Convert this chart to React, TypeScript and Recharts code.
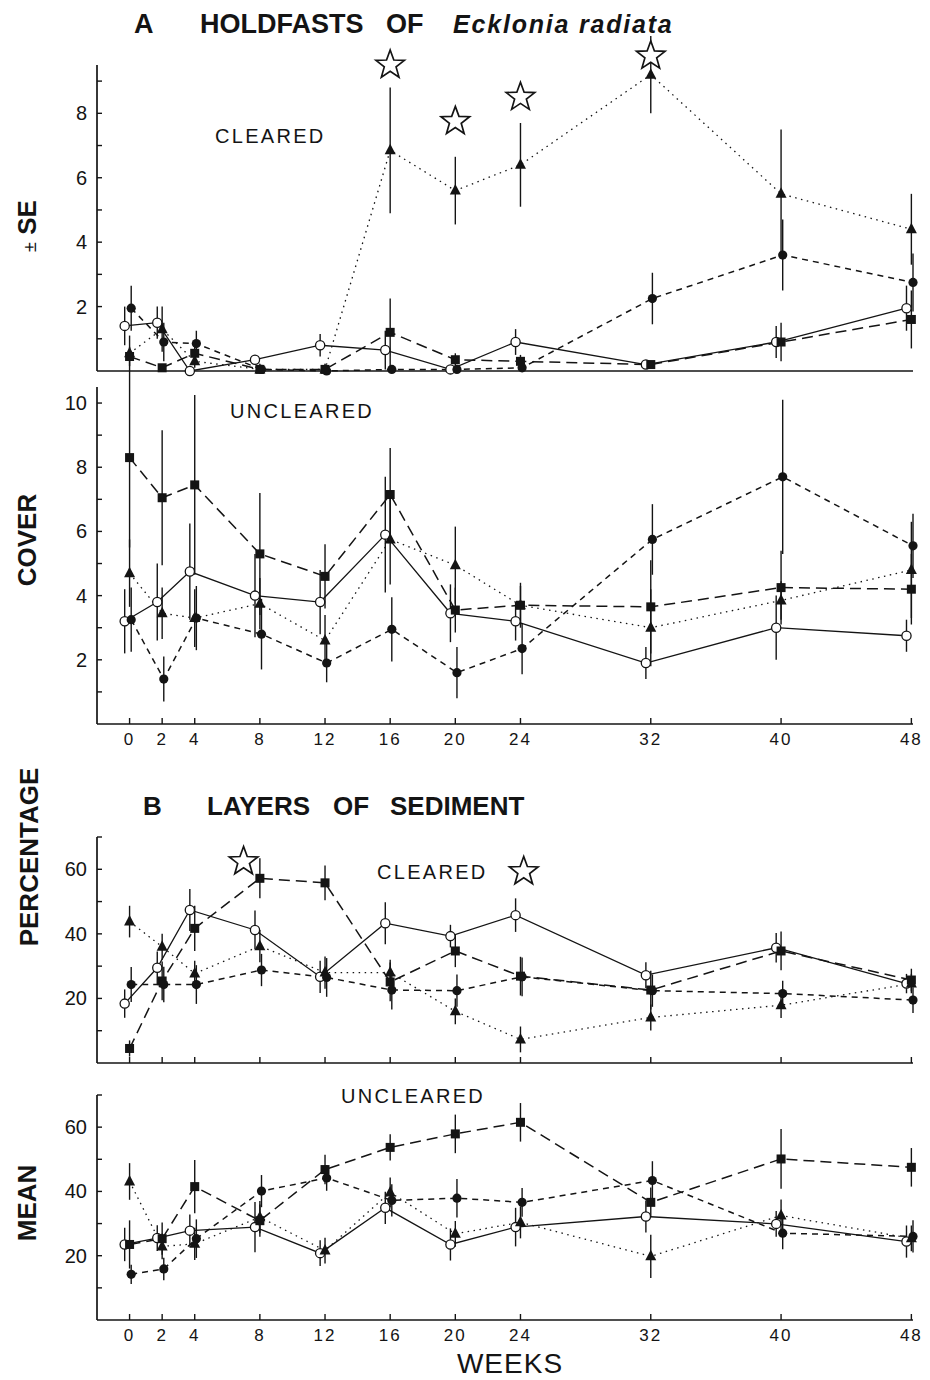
import React from 'react'
import { LineChart, Line, XAxis, YAxis, ErrorBar, ReferenceDot } from 'recharts'

const weeks = [0, 2, 4, 8, 12, 16, 20, 24, 32, 40, 48]
const weekTicks = [0, 2, 4, 8, 12, 16, 20, 24, 32, 40, 48]

// A  holdfasts, cleared plots
const holdClrOpen = [1.4, 1.5, 0.0, 0.35, 0.8, 0.65, 0.05, 0.9, 0.2, 0.9, 1.95]
const holdClrOpenSe = [0.6, 0.5, 0, 0.15, 0.35, 0.6, 0.1, 0.4, 0.1, 0.5, 0.7]
const holdClrSquare = [0.45, 0.1, 0.55, 0.05, 0.05, 1.2, 0.35, 0.3, 0.2, 0.9, 1.6]
const holdClrSquareSe = [0.3, 0.1, 0.35, 0.05, 0.05, 1.05, 0.2, 0.2, 0.1, 0.6, 0.9]
const holdClrDisc = [1.95, 0.9, 0.85, 0.05, 0.0, 0.05, 0.05, 0.1, 2.25, 3.6, 2.75]
const holdClrDiscSe = [0.7, 0.6, 0.4, 0, 0, 0, 0, 0, 0.8, 1.1, 0.9]
const holdClrTri = [0.55, 1.3, 0.3, 0.05, 0.05, 6.85, 5.6, 6.4, 9.2, 5.5, 4.4]
const holdClrTriSe = [0.55, 0.7, 0.2, 0, 0, 1.95, 1.05, 1.3, 1.2, 2.0, 1.1]
const holdStarWeeks = [16, 20, 24, 32]
const holdStarValues = [9.5, 7.75, 8.5, 9.78]

// A  holdfasts, uncleared plots
const holdUncOpen = [3.2, 3.8, 4.75, 4.0, 3.8, 5.9, 3.45, 3.2, 1.9, 3.0, 2.75]
const holdUncOpenSe = [1.0, 1.2, 1.5, 1.3, 1.0, 1.8, 0.9, 0.6, 0.5, 1.0, 0.5]
const holdUncSquare = [8.3, 7.05, 7.45, 5.3, 4.6, 7.15, 3.55, 3.7, 3.65, 4.25, 4.2]
const holdUncSquareSe = [2.8, 2.1, 2.8, 1.9, 1.0, 1.45, 0.7, 0.6, 1.45, 1.15, 1.1]
const holdUncDisc = [3.25, 1.4, 3.3, 2.8, 1.9, 2.95, 1.6, 2.35, 5.75, 7.7, 5.55]
const holdUncDiscSe = [1.0, 0.7, 1.0, 1.1, 0.6, 1.0, 0.8, 0.8, 1.1, 2.4, 1.0]
const holdUncTri = [4.7, 3.45, 3.3, 3.75, 2.6, 5.75, 4.95, 3.7, 3.0, 3.85, 4.8]
const holdUncTriSe = [1.05, 0.8, 0.9, 0.8, 0.8, 1.4, 1.2, 0.7, 1.2, 0.6, 1.5]

// B  sediment layers, cleared plots
const sedClrOpen = [18.4, 29.5, 47.4, 41.2, 26.7, 43.3, 39.3, 45.8, 27.2, 35.7, 24.6]
const sedClrOpenSe = [4.4, 5, 6.5, 6, 5, 6.5, 3.5, 5.2, 4, 4.6, 3]
const sedClrSquare = [4.5, 25.4, 41.7, 57.2, 55.8, 25.1, 34.7, 26.9, 22.6, 34.7, 25.7]
const sedClrSquareSe = [2.5, 6, 7, 6.2, 5.4, 6, 5, 6, 6, 6, 3.5]
const sedClrDisc = [24.3, 24.3, 24.3, 28.8, 26.5, 22.6, 22.4, 26.7, 22.4, 21.5, 19.5]
const sedClrDiscSe = [5.4, 5.5, 6, 5, 6, 6, 5, 6, 5, 4, 4]
const sedClrTri = [43.8, 36, 27.7, 36.2, 28, 28, 16, 7.3, 14.1, 17.9, 24.6]
const sedClrTriSe = [4.9, 4, 4, 5, 5, 4, 4, 4, 4, 4, 3]
const sedStarWeeks = [7, 24.2]
const sedStarValues = [62.4, 59.3]

// B  sediment layers, uncleared plots
const sedUncOpen = [23.5, 25.5, 27.8, 28.9, 20.8, 34.9, 23.5, 28.9, 32.2, 29.9, 24.4]
const sedUncOpenSe = [5.2, 4, 5, 7.8, 4, 5, 5, 6, 5, 4, 5]
const sedUncSquare = [23.5, 25.3, 41.5, 30.9, 46.8, 53.7, 57.9, 61.5, 36.6, 50.1, 47.5]
const sedUncSquareSe = [7.5, 5, 8.3, 5, 4.6, 4.1, 6, 6, 4.6, 9.3, 6]
const sedUncDisc = [14.2, 15.9, 25.3, 40.1, 44.2, 37.2, 37.9, 36.6, 43.4, 27.0, 26.0]
const sedUncDiscSe = [3, 3.5, 6, 5, 4, 5, 6, 4.5, 6, 5, 5]
const sedUncTri = [43.1, 22.9, 23.7, 32.0, 21.6, 39.7, 26.8, 30.4, 19.8, 32.5, 25.4]
const sedUncTriSe = [5.7, 4, 5, 5, 4, 4.6, 4, 5, 6.7, 5, 4]

const INK = '#141414'
const FONT = '"Liberation Sans", Arial, Helvetica, sans-serif'

const OpenDot = (p: any) => (
  <circle key={`o${p.index}`} cx={p.cx} cy={p.cy} r={4.6} fill="#fff" stroke={INK} strokeWidth={1.3} />
)
const SquareDot = (p: any) => (
  <rect key={`s${p.index}`} x={p.cx - 4.5} y={p.cy - 4.5} width={9} height={9} fill={INK} />
)
const DiscDot = (p: any) => <circle key={`d${p.index}`} cx={p.cx} cy={p.cy} r={4.6} fill={INK} />
const TriDot = (p: any) => (
  <polygon
    key={`t${p.index}`}
    points={`${p.cx},${p.cy - 6.5} ${p.cx - 5.5},${p.cy + 4} ${p.cx + 5.5},${p.cy + 4}`}
    fill={INK}
  />
)

const seriesStyle: Record<string, { dash?: string; width: number; shift: number; dot: any }> = {
  open: { width: 1.3, shift: -0.3, dot: OpenDot },
  square: { dash: '11 6', width: 1.5, shift: 0, dot: SquareDot },
  disc: { dash: '6 5', width: 1.5, shift: 0.1, dot: DiscDot },
  tri: { dash: '1.5 4.5', width: 1.3, shift: 0, dot: TriDot },
}

type Series = { kind: string; values: number[]; errors: number[] }

const rowsOf = (s: Series) =>
  weeks.map((w, i) => ({ x: w + seriesStyle[s.kind].shift, y: s.values[i], e: s.errors[i] }))

const StarShape = (p: any) => {
  const pts: string[] = []
  for (let i = 0; i < 10; i++) {
    const r = i % 2 === 0 ? 15 : 6.2
    const a = -Math.PI / 2 + (i * Math.PI) / 5
    pts.push(`${p.cx + r * Math.cos(a)},${p.cy + r * Math.sin(a)}`)
  }
  return <polygon points={pts.join(' ')} fill="#fff" stroke={INK} strokeWidth={1.7} strokeLinejoin="miter" />
}

const makeYTick = (labelStep: number) => (p: any) => {
  const v = p.payload.value
  return (
    <g>
      <line x1={p.x} x2={p.x + 5} y1={p.y} y2={p.y} stroke={INK} strokeWidth={1.4} />
      {v % labelStep === 0 && (
        <text x={p.x - 10} y={p.y} textAnchor="end" dominantBaseline="central" fontSize={20} fontFamily={FONT} fill={INK}>
          {v}
        </text>
      )}
    </g>
  )
}

const makeXTick = (withLabel: boolean) => (p: any) => (
  <g>
    <line x1={p.x} x2={p.x} y1={p.y} y2={p.y - 6} stroke={INK} strokeWidth={1.4} />
    {withLabel && (
      <text x={p.x} y={p.y + 15} textAnchor="middle" dominantBaseline="central" fontSize={17} letterSpacing={2} fontFamily={FONT} fill={INK}>
        {p.payload.value}
      </text>
    )}
  </g>
)

type PanelProps = {
  top: number
  height: number
  plotTop: number
  axisH: number
  yMax: number
  yTicks: number[]
  labelStep: number
  xTicks: boolean
  xLabels: boolean
  series: Series[]
  starWeeks?: number[]
  starValues?: number[]
}

function Panel(props: PanelProps) {
  const { top, height, plotTop, axisH, yMax, yTicks, labelStep, xTicks, xLabels, series } = props
  return (
    <div style={{ position: 'absolute', left: 0, top }}>
      <LineChart width={930} height={height} margin={{ top: plotTop, right: 17, bottom: 0, left: 37 }}>
        <XAxis
          type="number"
          dataKey="x"
          domain={[-2, 48]}
          ticks={weekTicks}
          interval={0}
          height={axisH}
          tickSize={0}
          tickMargin={0}
          tickLine={false}
          tick={xTicks ? makeXTick(xLabels) : false}
          axisLine={{ stroke: INK, strokeWidth: 1.7 }}
        />
        <YAxis
          yAxisId="y"
          type="number"
          domain={[0, yMax]}
          ticks={yTicks}
          interval={0}
          width={60}
          tickSize={0}
          tickMargin={0}
          tickLine={false}
          tick={makeYTick(labelStep)}
          axisLine={{ stroke: INK, strokeWidth: 1.7 }}
        />
        <YAxis yAxisId="e" hide orientation="right" width={0} type="number" domain={[0, yMax]} allowDataOverflow />
        {series.map((s) => (
          <Line
            key={`err-${s.kind}`}
            yAxisId="e"
            data={rowsOf(s)}
            dataKey="y"
            stroke="none"
            dot={false}
            activeDot={false}
            isAnimationActive={false}
          >
            <ErrorBar dataKey="e" width={0} stroke={INK} strokeWidth={1.4} direction="y" isAnimationActive={false} />
          </Line>
        ))}
        {series.map((s) => {
          const st = seriesStyle[s.kind]
          return (
            <Line
              key={`line-${s.kind}`}
              yAxisId="y"
              data={rowsOf(s)}
              dataKey="y"
              stroke={INK}
              strokeWidth={st.width}
              strokeDasharray={st.dash}
              dot={st.dot}
              activeDot={false}
              isAnimationActive={false}
            />
          )
        })}
        {(props.starWeeks ?? []).map((w, i) => (
          <ReferenceDot
            key={`star${i}`}
            yAxisId="y"
            x={w}
            y={props.starValues![i]}
            r={15}
            ifOverflow="visible"
            shape={StarShape}
          />
        ))}
      </LineChart>
    </div>
  )
}

const txt = { fontFamily: FONT, fill: INK }

export default function App() {
  return (
    <div style={{ position: 'absolute', left: 0, top: 0, width: 930, height: 1380, background: '#fff' }}>
      <Panel
        top={0}
        height={381}
        plotTop={65}
        axisH={10}
        yMax={9.5}
        yTicks={[1, 2, 3, 4, 5, 6, 7, 8, 9]}
        labelStep={2}
        xTicks={false}
        xLabels={false}
        series={[
          { kind: 'open', values: holdClrOpen, errors: holdClrOpenSe },
          { kind: 'square', values: holdClrSquare, errors: holdClrSquareSe },
          { kind: 'disc', values: holdClrDisc, errors: holdClrDiscSe },
          { kind: 'tri', values: holdClrTri, errors: holdClrTriSe },
        ]}
        starWeeks={holdStarWeeks}
        starValues={holdStarValues}
      />
      <Panel
        top={371}
        height={389}
        plotTop={16}
        axisH={36}
        yMax={10.5}
        yTicks={[1, 2, 3, 4, 5, 6, 7, 8, 9, 10]}
        labelStep={2}
        xTicks
        xLabels
        series={[
          { kind: 'open', values: holdUncOpen, errors: holdUncOpenSe },
          { kind: 'square', values: holdUncSquare, errors: holdUncSquareSe },
          { kind: 'disc', values: holdUncDisc, errors: holdUncDiscSe },
          { kind: 'tri', values: holdUncTri, errors: holdUncTriSe },
        ]}
      />
      <Panel
        top={800}
        height={273}
        plotTop={37}
        axisH={10}
        yMax={70}
        yTicks={[10, 20, 30, 40, 50, 60, 70]}
        labelStep={20}
        xTicks
        xLabels={false}
        series={[
          { kind: 'open', values: sedClrOpen, errors: sedClrOpenSe },
          { kind: 'square', values: sedClrSquare, errors: sedClrSquareSe },
          { kind: 'disc', values: sedClrDisc, errors: sedClrDiscSe },
          { kind: 'tri', values: sedClrTri, errors: sedClrTriSe },
        ]}
        starWeeks={sedStarWeeks}
        starValues={sedStarValues}
      />
      <Panel
        top={1070}
        height={286}
        plotTop={25}
        axisH={36}
        yMax={70}
        yTicks={[10, 20, 30, 40, 50, 60, 70]}
        labelStep={20}
        xTicks
        xLabels
        series={[
          { kind: 'open', values: sedUncOpen, errors: sedUncOpenSe },
          { kind: 'square', values: sedUncSquare, errors: sedUncSquareSe },
          { kind: 'disc', values: sedUncDisc, errors: sedUncDiscSe },
          { kind: 'tri', values: sedUncTri, errors: sedUncTriSe },
        ]}
      />
      <svg width={930} height={1380} style={{ position: 'absolute', left: 0, top: 0, pointerEvents: 'none' }}>
        <g {...txt} fontWeight="bold" fontSize={27}>
          <text x={134} y={33}>A</text>
          <text x={200} y={33}>HOLDFASTS</text>
          <text x={386} y={33}>OF</text>
          <text x={453} y={33} fontStyle="italic" fontSize={25} letterSpacing={1.8}>Ecklonia radiata</text>
        </g>
        <g {...txt} fontWeight="bold" fontSize={26}>
          <text x={143} y={815}>B</text>
          <text x={207} y={815}>LAYERS</text>
          <text x={333} y={815}>OF</text>
          <text x={390} y={815}>SEDIMENT</text>
        </g>
        <g {...txt} fontSize={20} letterSpacing={2.3}>
          <text x={215} y={143}>CLEARED</text>
          <text x={230} y={418}>UNCLEARED</text>
          <text x={377} y={879}>CLEARED</text>
          <text x={341} y={1103}>UNCLEARED</text>
        </g>
        <g {...txt} fontWeight="bold" fontSize={26} textAnchor="middle">
          <text transform="translate(36,226) rotate(-90)">
            <tspan fontSize={18} fontWeight="normal">±</tspan>
            <tspan> SE</tspan>
          </text>
          <text transform="translate(36,540) rotate(-90)">COVER</text>
          <text transform="translate(38,857) rotate(-90)">PERCENTAGE</text>
          <text transform="translate(36,1203) rotate(-90)">MEAN</text>
        </g>
        <text x={510} y={1373} textAnchor="middle" fontSize={28} letterSpacing={1} {...txt}>
          WEEKS
        </text>
      </svg>
    </div>
  )
}
